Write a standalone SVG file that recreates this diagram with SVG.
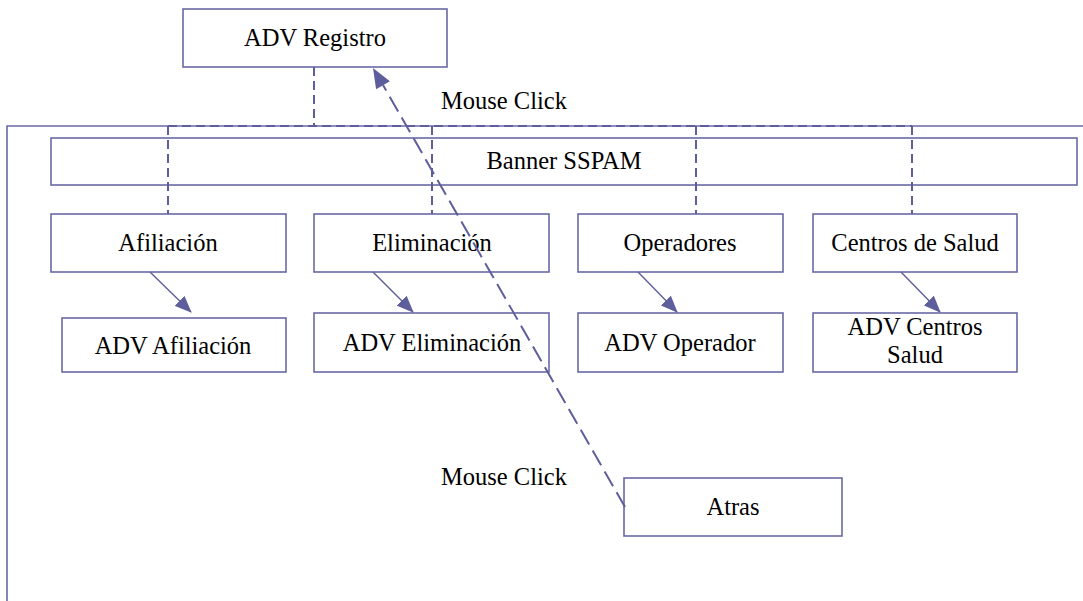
<svg xmlns="http://www.w3.org/2000/svg" width="1083" height="601" viewBox="0 0 1083 601">
<style>
.box{fill:#fff;stroke:#6a6aa6;stroke-width:1.6}
.t{font-family:"Liberation Serif","Times New Roman",serif;font-size:24.5px;fill:#000;text-anchor:middle}
.tl{font-family:"Liberation Serif","Times New Roman",serif;font-size:24.5px;fill:#000}
.frame{fill:none;stroke:#6a6aa6;stroke-width:1.6}
.dash{fill:none;stroke:#5e5e9c;stroke-width:2;stroke-dasharray:9 5}
.dashd{fill:none;stroke:#5e5e9c;stroke-width:2;stroke-dasharray:17 7}
.arr{fill:none;stroke:#5e5e9c;stroke-width:1.4}
</style>
<defs>
<marker id="ah" markerWidth="17" markerHeight="14" refX="16" refY="7" orient="auto" markerUnits="userSpaceOnUse">
<path d="M0,0 L17,7 L0,14 Z" fill="#5e5e9c"/>
</marker>
</defs>
<rect width="1083" height="601" fill="#fff"/>
<g id="frame">
<path class="frame" d="M7,601 V126 H1083"/>
</g>
<g id="banner">
<rect class="box" x="51" y="138" width="1026" height="47"/>
<text class="t" x="564" y="169">Banner SSPAM</text>
</g>
<g id="adv-registro">
<rect class="box" x="183" y="9" width="264" height="58"/>
<text class="t" x="315" y="46">ADV Registro</text>
</g>
<g id="afiliacion">
<rect class="box" x="51" y="214" width="235" height="58"/>
<text class="t" x="168" y="251">Afiliación</text>
</g>
<g id="eliminacion">
<rect class="box" x="314" y="214" width="235" height="58"/>
<text class="t" x="432" y="251">Eliminación</text>
</g>
<g id="operadores">
<rect class="box" x="578" y="214" width="205" height="58"/>
<text class="t" x="680" y="251">Operadores</text>
</g>
<g id="centros">
<rect class="box" x="813" y="214" width="204" height="58"/>
<text class="t" x="915" y="251">Centros de Salud</text>
</g>
<g id="adv-afiliacion">
<rect class="box" x="62" y="318" width="224" height="54"/>
<text class="t" x="173" y="354">ADV Afiliación</text>
</g>
<g id="adv-eliminacion">
<rect class="box" x="314" y="313" width="235" height="59"/>
<text class="t" x="432" y="351">ADV Eliminación</text>
</g>
<g id="adv-operador">
<rect class="box" x="578" y="313" width="205" height="59"/>
<text class="t" x="680" y="351">ADV Operador</text>
</g>
<g id="adv-centros">
<rect class="box" x="813" y="313" width="204" height="59"/>
<text class="t" x="915" y="335">ADV Centros</text>
<text class="t" x="915" y="363">Salud</text>
</g>
<g id="atras">
<rect class="box" x="624" y="478" width="218" height="58"/>
<text class="t" x="733" y="515">Atras</text>
</g>
<g id="labels">
<text class="tl" x="441" y="109">Mouse Click</text>
<text class="tl" x="441" y="485">Mouse Click</text>
</g>
<g id="connectors">
<path class="dash" d="M314,67 V126"/>
<path class="dash" d="M168,126 H912"/>
<path class="dash" d="M168,126 V214"/>
<path class="dash" d="M432,126 V214"/>
<path class="dash" d="M696,126 V214"/>
<path class="dash" d="M912,126 V214"/>
<path class="arr" d="M150,272 L191,312" marker-end="url(#ah)"/>
<path class="arr" d="M373,272 L413,312" marker-end="url(#ah)"/>
<path class="arr" d="M638,272 L677,312" marker-end="url(#ah)"/>
<path class="arr" d="M901,272 L940,312" marker-end="url(#ah)"/>
<path class="dashd" d="M625,507 L383,85"/>
<path d="M373,68 L376.1,89.3 L389.9,81.3 Z" fill="#5e5e9c"/>
</g>
</svg>
